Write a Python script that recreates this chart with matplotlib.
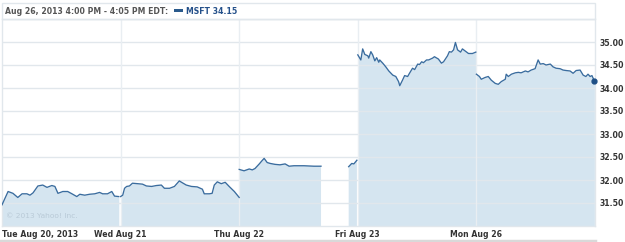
import numpy as np
import matplotlib.pyplot as plt
from matplotlib.patches import Rectangle
from matplotlib.lines import Line2D

plt.rcParams['font.family'] = 'DejaVu Sans'

day_labels = ['Tue Aug 20, 2013', 'Wed Aug 21', 'Thu Aug 22', 'Fri Aug 23', 'Mon Aug 26']
y_ticks = [31.5, 32.0, 32.5, 33.0, 33.5, 34.0, 34.5, 35.0]
last_price = 34.15

# minutes after the 9:30 open, and price
tue_min = [0, 20, 36, 52, 66, 82, 92, 102, 118, 134, 148, 164, 174, 184, 200, 216,
           230, 246, 256, 272, 288, 305, 321, 331, 347, 361, 370, 384]
tue_px = [31.46, 31.75, 31.71, 31.62, 31.70, 31.70, 31.67, 31.72, 31.87, 31.89, 31.84,
          31.88, 31.86, 31.71, 31.75, 31.75, 31.70, 31.64, 31.69, 31.67, 31.69, 31.70,
          31.73, 31.70, 31.70, 31.75, 31.65, 31.64]

wed_min = [0, 7, 13, 20, 29, 39, 56, 72, 85, 102, 118, 134, 144, 161, 177, 193, 203,
           216, 233, 252, 269, 275, 292, 301, 308, 318, 331, 344, 357, 374, 390]
wed_px = [31.64, 31.67, 31.82, 31.86, 31.87, 31.93, 31.92, 31.91, 31.87, 31.86, 31.88,
          31.89, 31.82, 31.82, 31.86, 31.98, 31.94, 31.89, 31.86, 31.85, 31.80, 31.70,
          31.70, 31.71, 31.89, 31.96, 31.92, 31.95, 31.86, 31.75, 31.62]

# Nasdaq halt: no quotes between the flat stretch and the late restart
thu_min = [0, 16, 33, 43, 52, 66, 75, 82, 92, 102, 118, 134, 151, 164, 180, 213, 246,
           269, 270, 359, 360, 370, 377, 387]
thu_px = [32.23, 32.20, 32.24, 32.22, 32.25, 32.35, 32.42, 32.47, 32.38, 32.36, 32.34,
          32.33, 32.35, 32.30, 32.31, 32.31, 32.30, 32.30, np.nan, np.nan, 32.29, 32.36,
          32.35, 32.43]

fri_min = [0, 10, 16, 23, 33, 36, 43, 49, 56, 62, 69, 72, 82, 92, 102, 115, 125, 134,
           138, 147, 154, 164, 170, 180, 187, 197, 203, 210, 216, 226, 233, 246, 252,
           265, 275, 282, 295, 301, 308, 315, 321, 328, 338, 344, 354, 364, 377, 388]
fri_px = [34.72, 34.61, 34.85, 34.73, 34.70, 34.65, 34.79, 34.72, 34.59, 34.66, 34.56,
          34.61, 34.54, 34.46, 34.37, 34.28, 34.25, 34.14, 34.05, 34.17, 34.27, 34.25,
          34.32, 34.43, 34.40, 34.52, 34.51, 34.57, 34.55, 34.61, 34.61, 34.65, 34.68,
          34.63, 34.54, 34.57, 34.70, 34.79, 34.78, 34.83, 34.99, 34.83, 34.78, 34.85,
          34.80, 34.75, 34.75, 34.78]

mon_min = [0, 10, 16, 29, 39, 49, 62, 72, 82, 95, 98, 105, 115, 128, 138, 147, 161,
           170, 180, 193, 203, 210, 220, 229, 243, 252, 262, 275, 285, 295, 308, 318,
           328, 341, 351, 360, 367, 374, 380, 388]
mon_px = [34.30, 34.25, 34.19, 34.23, 34.25, 34.17, 34.10, 34.08, 34.14, 34.19, 34.30,
          34.25, 34.30, 34.33, 34.34, 34.33, 34.37, 34.35, 34.39, 34.42, 34.61, 34.52,
          34.53, 34.50, 34.52, 34.46, 34.43, 34.42, 34.39, 34.38, 34.37, 34.32, 34.38,
          34.39, 34.28, 34.25, 34.30, 34.25, 34.27, 34.15]

days = [(tue_min, tue_px), (wed_min, wed_px), (thu_min, thu_px),
        (fri_min, fri_px), (mon_min, mon_px)]
session = 390

line_col = '#3a6c9e'
fill_col = '#d5e5f0'
grid_col = '#e1e7ec'
text_col = '#333333'

fig = plt.figure(figsize=(6.25, 2.42), dpi=100)
ax = fig.add_axes([2 / 625, 16 / 242, 593 / 625, 207 / 242])

for i, (mins, px) in enumerate(days):
    x = i * session + np.array(mins, dtype=float)
    y = np.array(px, dtype=float)
    ax.fill_between(x, 31.0, y, color=fill_col, lw=0, zorder=1)
    ax.plot(x, y, color=line_col, lw=0.95, zorder=3)

# gridlines sit over the fill, under the price line
for v in y_ticks + [35.5]:
    ax.axhline(v, color=grid_col, lw=1.0, zorder=2)
for i in range(1, len(days)):
    ax.axvline(i * session, color='#e9eef2', lw=1.0, zorder=2)

ax.plot([len(days) * session - 2], [last_price], 'o', color='#1f4f85', ms=3.5, zorder=4,
        clip_on=False)

ax.set_xlim(0, len(days) * session)
ax.set_ylim(31.0, 35.5)
for s in ax.spines.values():
    s.set_color(grid_col)
    s.set_linewidth(1.0)

ax.yaxis.tick_right()
ax.set_yticks(y_ticks)
ax.set_yticklabels(['%.2f' % v for v in y_ticks])
ax.set_xticks([i * session for i in range(len(days))])
ax.set_xticklabels(day_labels)
ax.tick_params(length=0, labelsize=5.6, labelcolor=text_col, pad=3)
for lab in ax.get_xticklabels() + ax.get_yticklabels():
    lab.set_fontweight('bold')
ax.get_xticklabels()[0].set_ha('left')

ax.text(0.006, 0.035, '\u00a9 2013 Yahoo! Inc.', transform=ax.transAxes, fontsize=5.4,
        color='#b9cad7', va='bottom', ha='left')

# header strip above the plot
fig.add_artist(Rectangle((2 / 625, 1 - 19 / 242), 593 / 625, 16 / 242,
                         transform=fig.transFigure, fill=False, ec=grid_col, lw=1.0))
fig.text(5 / 625, 1 - 11 / 242, 'Aug 26, 2013 4:00 PM - 4:05 PM EDT:', fontsize=5.6,
         fontweight='bold', color='#555555', va='center')
fig.add_artist(Rectangle((174 / 625, 1 - 12 / 242), 9 / 625, 3 / 242,
                         transform=fig.transFigure, color='#2a5a8c', lw=0))
fig.text(186 / 625, 1 - 11 / 242, 'MSFT %.2f' % last_price, fontsize=5.6,
         fontweight='bold', color='#24508a', va='center')

fig.add_artist(Line2D([0, 595 / 625], [1.5 / 242, 1.5 / 242], transform=fig.transFigure,
                      color='#d9d9d9', lw=2.5))

fig.savefig('out.png', dpi=100)
